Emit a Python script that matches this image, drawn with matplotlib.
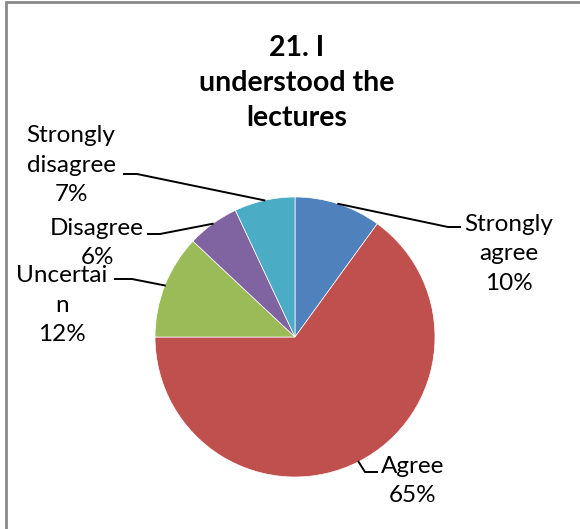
import matplotlib.pyplot as plt
import numpy as np

# chart data
labels = ['Strongly\nagree', 'Agree', 'Uncertai\nn', 'Disagree', 'Strongly\ndisagree']
values = [10, 65, 12, 6, 7]
colors = ['#4F81BD', '#C0504D', '#9BBB59', '#8064A2', '#4BACC6']
title = '21. I\nunderstood the\nlectures'

# label layout in pixels (y measured from the top)
text_pos = [(509, 254), (413, 481), (62, 305), (97, 243), (71, 165)]
elbows = [(448, 227), (365, 472), (132, 279), (160, 234), (137, 174)]
ends = [(460, 227), (377, 472), (115, 279), (148, 234), (124, 174)]

W, H = 580, 529
FONT = ['Lato', 'DejaVu Sans']

def flip(p):
    return (p[0], H - p[1])

fig = plt.figure(figsize=(W / 100, H / 100), dpi=100)
ax = fig.add_axes([0, 0, 1, 1])

wedges, _ = ax.pie(values, colors=colors, startangle=90, counterclock=False,
                   center=(295, H - 337), radius=140,
                   wedgeprops=dict(edgecolor='white', linewidth=0.5))
ax.set_xlim(0, W)
ax.set_ylim(0, H)
ax.set_aspect('equal')
ax.axis('off')

# frame (only left and top edges visible)
ax.plot([5.5, 5.5, W], [0, H - 2, H - 2], color='#8a8a8a', lw=2,
        solid_joinstyle='miter', clip_on=False)

ax.text(297, H - 83, title, ha='center', va='center', fontsize=20.5,
        fontweight='bold', family=FONT, linespacing=1.42)

for w, lab, v, tp, el, en in zip(wedges, labels, values, text_pos, elbows, ends):
    mid = np.deg2rad((w.theta1 + w.theta2) / 2)
    cx, cy = w.center
    anchor = (cx + w.r * np.cos(mid), cy + w.r * np.sin(mid))
    e1 = flip(el)
    e2 = flip(en)
    ax.plot([anchor[0], e1[0], e2[0]], [anchor[1], e1[1], e2[1]],
            color='black', lw=1.4)
    ax.text(tp[0], H - tp[1], f'{lab}\n{v}%', ha='center', va='center',
            fontsize=17.5, family=FONT, linespacing=1.52)

fig.savefig('out.png', dpi=100)
